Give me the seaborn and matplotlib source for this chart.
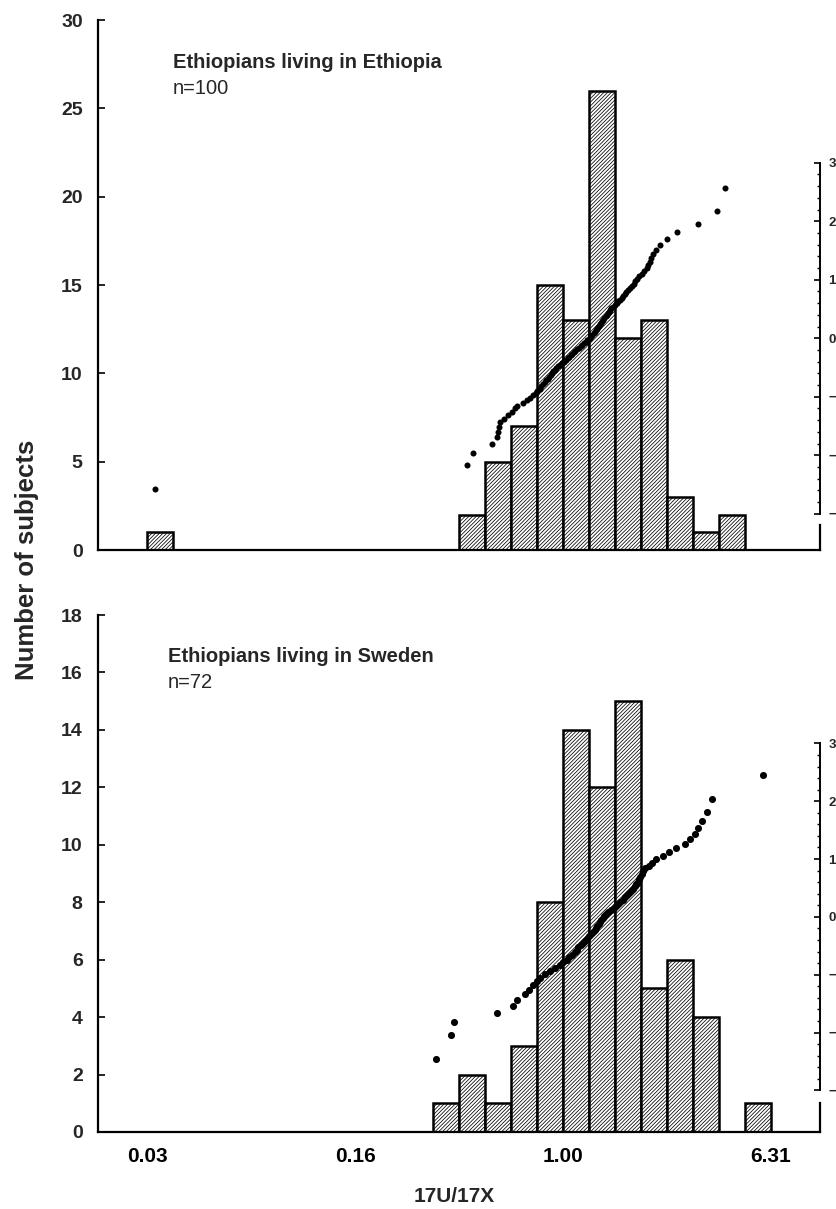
import matplotlib
matplotlib.use("Agg")
import matplotlib.pyplot as plt
import numpy as np
import pandas as pd
import seaborn as sns
from statistics import NormalDist

W, H = 837, 1209

# x axis is log10(17U/17X); bars are 0.1 log10 units wide
tick_pos = [-1.6, -0.8, 0.0, 0.8]
tick_labels = ["0.03", "0.16", "1.00", "6.31"]

# histogram bins (left edge, log10) and counts
eth_bin_left = [-1.6, -0.4, -0.3, -0.2, -0.1, 0.0, 0.1, 0.2, 0.3, 0.4, 0.5, 0.6]
eth_counts = [1, 2, 5, 7, 15, 13, 26, 12, 13, 3, 1, 2]

swe_bin_left = [-0.5, -0.4, -0.3, -0.2, -0.1, 0.0, 0.1, 0.2, 0.3, 0.4, 0.5, 0.6, 0.7]
swe_counts = [1, 2, 1, 3, 8, 14, 12, 15, 5, 6, 4, 0, 1]

# sorted individual values (log10) for the normal probability dots
eth_values = [
    -1.57, -0.37, -0.347, -0.274, -0.255, -0.249, -0.245, -0.242, -0.225, -0.21,
    -0.195, -0.183, -0.175, -0.155, -0.14, -0.125, -0.115, -0.105, -0.098, -0.09,
    -0.083, -0.076, -0.07, -0.064, -0.058, -0.052, -0.047, -0.042, -0.038, -0.032,
    -0.025, -0.018, -0.01, -0.003, 0.004, 0.011, 0.018, 0.024, 0.03, 0.036,
    0.042, 0.048, 0.055, 0.062, 0.069, 0.075, 0.082, 0.088, 0.094, 0.099,
    0.104, 0.109, 0.114, 0.119, 0.124, 0.128, 0.132, 0.136, 0.14, 0.144,
    0.148, 0.152, 0.156, 0.16, 0.165, 0.169, 0.173, 0.177, 0.181, 0.186,
    0.193, 0.2, 0.207, 0.214, 0.22, 0.226, 0.232, 0.238, 0.244, 0.25,
    0.257, 0.265, 0.272, 0.279, 0.285, 0.295, 0.305, 0.314, 0.322, 0.328,
    0.334, 0.34, 0.347, 0.36, 0.373, 0.399, 0.44, 0.52, 0.595, 0.623,
]
swe_values = [
    -0.49, -0.43, -0.42, -0.253, -0.191, -0.178, -0.146, -0.13, -0.114, -0.10,
    -0.088, -0.07, -0.05, -0.03, -0.012, 0.0, 0.014, 0.025, 0.035, 0.045,
    0.053, 0.06, 0.068, 0.078, 0.085, 0.092, 0.1, 0.107, 0.117, 0.122,
    0.127, 0.132, 0.138, 0.143, 0.148, 0.153, 0.158, 0.165, 0.175, 0.185,
    0.195, 0.205, 0.212, 0.22, 0.23, 0.24, 0.248, 0.255, 0.262, 0.27,
    0.276, 0.282, 0.288, 0.293, 0.298, 0.303, 0.308, 0.315, 0.33, 0.345,
    0.36, 0.385, 0.41, 0.437, 0.469, 0.49, 0.508, 0.522, 0.536, 0.553,
    0.575, 0.77,
]

sns.set_style("white")
plt.rcParams["font.family"] = ["Liberation Sans", "DejaVu Sans"]
plt.rcParams["hatch.linewidth"] = 0.55
plt.rcParams["hatch.color"] = "black"

fig = plt.figure(figsize=(W / 100, H / 100), dpi=100)


def px_axes(x0, y0, x1, y1):
    return fig.add_axes([x0 / W, 1 - y1 / H, (x1 - x0) / W, (y1 - y0) / H])


def panel(ax, bin_left, counts, values, ymax, ystep, z_lim, title, n_text,
          title_xy, dot_size, bracket, show_xlabels):
    edges = [round(e, 2) for e in np.arange(min(bin_left), max(bin_left) + 0.1001, 0.1)]
    hist_df = pd.DataFrame({"x": np.array(bin_left) + 0.05, "count": counts})
    sns.histplot(data=hist_df, x="x", weights="count", bins=edges, ax=ax,
                 stat="count", color="white", edgecolor="black", linewidth=1.8,
                 hatch="/" * 9, alpha=1)
    ax.set_xlim(-1.79, 0.99)
    ax.set_ylim(0, ymax)
    ax.set_yticks(np.arange(0, ymax + 1, ystep))
    ax.set_xticks(tick_pos)
    ax.set_xticklabels(tick_labels if show_xlabels else [])
    ax.set_xticks(np.round(np.arange(-1.7, 0.95, 0.2), 1), minor=True)
    ax.tick_params(axis="x", which="major", length=0, pad=11,
                   labelsize=15, labelcolor="black")
    ax.tick_params(axis="x", which="minor", direction="in", length=5,
                   width=1.2, color="black")
    ax.tick_params(axis="y", which="major", direction="in", length=5,
                   width=1.2, pad=11, labelsize=14, color="black")
    for lab in ax.get_xticklabels() + ax.get_yticklabels():
        lab.set_fontweight("bold")
    ax.set_xlabel("")
    ax.set_ylabel("")
    ax.spines["top"].set_visible(False)
    for side in ["left", "bottom", "right"]:
        ax.spines[side].set_linewidth(1.6)
        ax.spines[side].set_color("black")
    ax.spines["right"].set_bounds(0, bracket)

    fig.text(title_xy[0], title_xy[1], title, fontsize=14.5,
             fontweight="bold", ha="left", va="center")
    fig.text(title_xy[0], title_xy[1] - 25 / H, n_text, fontsize=14.5,
             ha="left", va="center")

    # normal probability dots on a secondary axis
    n = len(values)
    z = [NormalDist().inv_cdf((i - 0.5) / n) for i in range(1, n + 1)]
    ax2 = ax.twinx()
    sns.scatterplot(x=values, y=z, ax=ax2, color="black", s=dot_size,
                    linewidth=0, marker="o")
    ax2.set_ylim(*z_lim)
    ax2.set_yticks(range(-3, 4))
    ax2.set_yticks(np.round(np.arange(-3, 3.01, 0.2), 1), minor=True)
    ax2.tick_params(axis="y", which="major", direction="in", length=4,
                    width=1.2, pad=6, labelsize=9.5, color="black")
    ax2.tick_params(axis="y", which="minor", direction="in", length=2.5,
                    width=1.0, color="black")
    for lab in ax2.get_yticklabels():
        lab.set_fontweight("bold")
    for side in ["top", "left", "bottom"]:
        ax2.spines[side].set_visible(False)
    ax2.spines["right"].set_bounds(-3, 3)
    ax2.spines["right"].set_linewidth(1.4)
    ax2.spines["right"].set_color("black")
    ax2.set_ylabel("")
    ax2.grid(False)


ax_top = px_axes(98, 20, 820, 550)
panel(ax_top, eth_bin_left, eth_counts, eth_values, 30, 5, (-3.62, 5.44),
      "Ethiopians living in Ethiopia", "n=100", (173 / W, 1 - 63 / H),
      19, 1.4, False)

ax_bot = px_axes(98, 615, 820, 1132)
panel(ax_bot, swe_bin_left, swe_counts, swe_values, 18, 2, (-3.72, 5.22),
      "Ethiopians living in Sweden", "n=72", (168 / W, 1 - 657 / H),
      26, 1.0, True)

fig.text(27 / W, 1 - 560 / H, "Number of subjects", rotation=90,
         fontsize=18.5, fontweight="bold", ha="center", va="center")
fig.text(454 / W, 1 - 1196 / H, "17U/17X", fontsize=15,
         fontweight="bold", ha="center", va="center")

fig.savefig("out.png", dpi=100)
